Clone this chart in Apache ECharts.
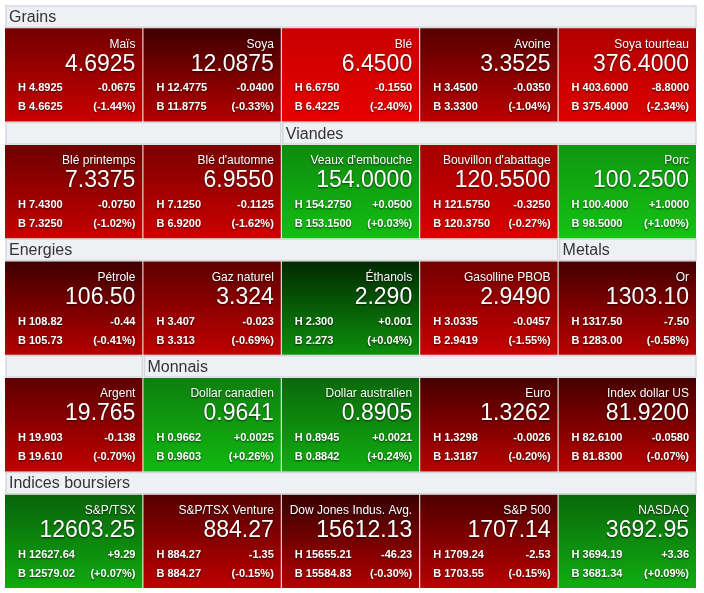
<!DOCTYPE html>
<html>
<head>
<meta charset="utf-8">
<title>Marchés</title>
<script src="https://cdn.jsdelivr.net/npm/echarts@6/dist/echarts.min.js"></script>
<style>html,body{margin:0;background:#fff}#chart{width:704px;height:593px}</style>
</head>
<body>
<div id="chart"></div>
<script>
// section headers: [col start, col end, row, label]
var headers = [
    [0, 5, 0, 'Grains'],
    [0, 2, 1, ''], [2, 5, 1, 'Viandes'],
    [0, 4, 2, 'Energies'], [4, 5, 2, 'Metals'],
    [0, 1, 3, ''], [1, 5, 3, 'Monnais'],
    [0, 5, 4, 'Indices boursiers']
];
var names = [
    ['Maïs', 'Soya', 'Blé', 'Avoine', 'Soya tourteau'],
    ['Blé printemps', "Blé d'automne", "Veaux d'embouche", "Bouvillon d'abattage", 'Porc'],
    ['Pétrole', 'Gaz naturel', 'Éthanols', 'Gasolline PBOB', 'Or'],
    ['Argent', 'Dollar canadien', 'Dollar australien', 'Euro', 'Index dollar US'],
    ['S&P/TSX', 'S&P/TSX Venture', 'Dow Jones Indus. Avg.', 'S&P 500', 'NASDAQ']
];
var last = [
    ['4.6925', '12.0875', '6.4500', '3.3525', '376.4000'],
    ['7.3375', '6.9550', '154.0000', '120.5500', '100.2500'],
    ['106.50', '3.324', '2.290', '2.9490', '1303.10'],
    ['19.765', '0.9641', '0.8905', '1.3262', '81.9200'],
    ['12603.25', '884.27', '15612.13', '1707.14', '3692.95']
];
var high = [
    ['4.8925', '12.4775', '6.6750', '3.4500', '403.6000'],
    ['7.4300', '7.1250', '154.2750', '121.5750', '100.4000'],
    ['108.82', '3.407', '2.300', '3.0335', '1317.50'],
    ['19.903', '0.9662', '0.8945', '1.3298', '82.6100'],
    ['12627.64', '884.27', '15655.21', '1709.24', '3694.19']
];
var low = [
    ['4.6625', '11.8775', '6.4225', '3.3300', '375.4000'],
    ['7.3250', '6.9200', '153.1500', '120.3750', '98.5000'],
    ['105.73', '3.313', '2.273', '2.9419', '1283.00'],
    ['19.610', '0.9603', '0.8842', '1.3187', '81.8300'],
    ['12579.02', '884.27', '15584.83', '1703.55', '3681.34']
];
var change = [
    ['-0.0675', '-0.0400', '-0.1550', '-0.0350', '-8.8000'],
    ['-0.0750', '-0.1125', '+0.0500', '-0.3250', '+1.0000'],
    ['-0.44', '-0.023', '+0.001', '-0.0457', '-7.50'],
    ['-0.138', '+0.0025', '+0.0021', '-0.0026', '-0.0580'],
    ['+9.29', '-1.35', '-46.23', '-2.53', '+3.36']
];
var pct = [
    ['-1.44%', '-0.33%', '-2.40%', '-1.04%', '-2.34%'],
    ['-1.02%', '-1.62%', '+0.03%', '-0.27%', '+1.00%'],
    ['-0.41%', '-0.69%', '+0.04%', '-1.55%', '-0.58%'],
    ['-0.70%', '+0.26%', '+0.24%', '-0.20%', '-0.07%'],
    ['+0.07%', '-0.15%', '-0.30%', '-0.15%', '+0.09%']
];
// heat intensity per tile (0 dark .. 1 bright)
var heat = [
    [0.45, 0.1, 1.0, 0.25, 0.85],
    [0.4, 0.5, 0.9, 0.75, 1.0],
    [0.1, 0.3, 0.05, 0.45, 0.15],
    [0.3, 0.8, 0.6, 0.15, 0.15],
    [0.55, 0.25, 0.05, 0.2, 0.6]
];

var HDR = 0.25;
var tiles = [];
for (var r = 0; r < 5; r++) {
    for (var c = 0; c < 5; c++) {
        tiles.push([c, r, names[r][c], last[r][c], high[r][c], low[r][c], change[r][c], pct[r][c], heat[r][c]]);
    }
}

function mix(a, b, t) {
    var o = [];
    for (var i = 0; i < 3; i++) o.push(Math.round(a[i] + (b[i] - a[i]) * t));
    return 'rgb(' + o.join(',') + ')';
}
function tileFill(up, t) {
    if (up) {
        return new echarts.graphic.LinearGradient(0, 0, 0, 1, [
            {offset: 0, color: mix([0, 36, 0], [16, 150, 16], t)},
            {offset: 1, color: mix([12, 140, 12], [20, 195, 20], t)}
        ]);
    }
    return new echarts.graphic.LinearGradient(0, 0, 0, 1, [
        {offset: 0, color: mix([48, 0, 0], [200, 0, 0], t)},
        {offset: 1, color: mix([175, 0, 0], [232, 0, 0], t)}
    ]);
}

var FONT = '"Liberation Sans", Arial, sans-serif';
var shadow = {textShadowColor: 'rgba(0,0,0,0.7)', textShadowBlur: 2, textShadowOffsetY: 1};
function txt(x, y, s, size, align, weight) {
    return {type: 'text', style: Object.assign({x: x, y: y, text: s, fill: '#fff', font: (weight || 'normal') + ' ' + size + 'px ' + FONT, align: align, verticalAlign: 'middle'}, shadow)};
}

var chart = echarts.init(document.getElementById('chart'));
chart.setOption({
    animation: false,
    grid: {left: 5, right: 7, top: 5, bottom: 5},
    xAxis: {type: 'value', min: 0, max: 5, show: false},
    yAxis: {type: 'value', min: 0, max: 5 * (1 + HDR), inverse: true, show: false},
    series: [{
        type: 'custom',
        data: headers,
        renderItem: function (params, api) {
            var h = headers[params.dataIndex];
            var p0 = api.coord([h[0], h[2] * (1 + HDR)]);
            var p1 = api.coord([h[1], h[2] * (1 + HDR) + HDR]);
            return {type: 'group', children: [
                {type: 'rect', shape: {x: p0[0] + 1, y: p0[1] + 1, width: p1[0] - p0[0] - 2, height: p1[1] - p0[1] - 2},
                 style: {fill: '#eff0f4', stroke: '#d5d7dc', lineWidth: 1.5}},
                {type: 'text', style: {x: p0[0] + 4, y: (p0[1] + p1[1]) / 2 + 1, text: h[3], fill: '#333', font: '16px ' + FONT, verticalAlign: 'middle'}}
            ]};
        }
    }, {
        type: 'custom',
        data: tiles,
        renderItem: function (params, api) {
            var d = tiles[params.dataIndex];
            var p0 = api.coord([d[0], d[1] * (1 + HDR) + HDR]);
            var p1 = api.coord([d[0] + 1, (d[1] + 1) * (1 + HDR)]);
            var w = p1[0] - p0[0], h = p1[1] - p0[1];
            var x = p0[0], y = p0[1];
            var up = d[6].charAt(0) === '+';
            var right = x + w - 8;
            return {type: 'group', children: [
                {type: 'rect', shape: {x: x, y: y, width: w - 1, height: h}, style: {fill: tileFill(up, d[8])}},
                txt(right, y + 16, d[2], 12, 'right'),
                txt(right, y + 36, d[3], 23, 'right'),
                txt(x + 13, y + 60, 'H ' + d[4], 11, 'left', 'bold'),
                txt(right, y + 60, d[6], 11, 'right', 'bold'),
                txt(x + 13, y + 79, 'B ' + d[5], 11, 'left', 'bold'),
                txt(right, y + 79, '(' + d[7] + ')', 11, 'right', 'bold')
            ]};
        }
    }]
});
</script>
</body>
</html>
